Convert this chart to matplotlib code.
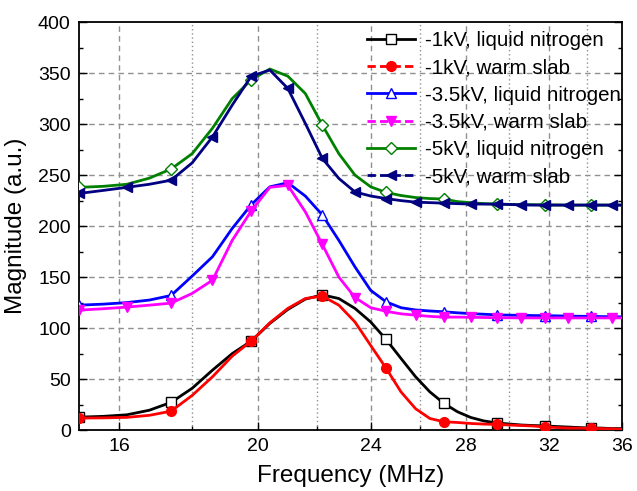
import matplotlib
matplotlib.use("Agg")
import matplotlib.pyplot as plt
from matplotlib.lines import Line2D
from matplotlib.ticker import FixedLocator, NullFormatter, FixedFormatter

plt.rcParams['font.family'] = ['Liberation Sans', 'DejaVu Sans']

# Frequency grid (MHz)
freq = [15.0, 15.6, 16.2, 16.8, 17.4, 18.0, 18.6, 19.2, 19.8, 20.4, 21.0, 21.6,
        22.2, 22.8, 23.4, 24.0, 24.6, 25.2, 25.8, 26.4, 27.0, 27.6, 28.2, 28.8,
        29.4, 30.0, 30.6, 31.2, 31.8, 32.4, 33.0, 33.6, 34.2, 34.8, 35.4, 36.0]

ln_1kv = [12.7, 13.5, 15.0, 19.5, 27.2, 41.0, 58.8, 75.0, 87.3, 104.6, 118.3, 128.4,
          132.6, 129.0, 119.3, 106.0, 89.0, 70.3, 52.3, 37.5, 26.3, 18.0, 12.4, 9.0,
          7.0, 6.0, 5.0, 4.5, 4.1, 3.5, 3.0, 2.5, 2.0, 2.0, 1.5, 1.5]
ws_1kv = [11.8, 12.0, 12.5, 14.5, 18.6, 34.0, 52.3, 72.5, 87.3, 105.2, 119.3, 129.0,
          131.4, 122.5, 106.0, 83.0, 60.8, 37.5, 21.0, 11.4, 8.2, 7.5, 6.5, 5.9,
          5.6, 5.0, 4.5, 4.0, 3.0, 2.5, 2.0, 2.0, 1.6, 1.5, 1.2, 1.0]
ln_35kv = [122.5, 123.5, 125.0, 127.5, 132.0, 151.0, 170.0, 197.7, 221.0, 238.5, 242.5, 229.5,
           211.0, 186.0, 160.0, 137.0, 125.8, 120.0, 117.8, 116.8, 116.0, 115.0, 114.2, 113.6,
           113.0, 112.7, 112.5, 112.3, 112.2, 112.0, 111.8, 111.6, 111.5, 111.3, 111.2, 111.0]
ws_35kv = [117.6, 119.0, 120.6, 122.5, 124.5, 134.0, 147.0, 186.0, 215.0, 238.0, 240.0, 214.0,
           182.0, 150.0, 130.0, 120.0, 116.5, 114.0, 112.7, 111.5, 110.8, 110.8, 110.6, 110.4,
           110.2, 110.1, 110.0, 110.0, 110.0, 110.0, 110.0, 110.0, 110.0, 110.0, 110.0, 110.0]
ln_5kv = [238.0, 239.0, 241.0, 247.0, 256.0, 271.0, 296.0, 325.0, 343.5, 354.0, 347.0, 330.0,
          299.0, 271.0, 250.0, 238.5, 233.0, 230.0, 228.0, 227.0, 226.5, 224.0, 223.0, 222.0,
          221.6, 221.3, 221.0, 221.0, 220.8, 220.7, 220.6, 220.6, 220.6, 220.6, 220.6, 220.6]
ws_5kv = [232.0, 235.0, 238.0, 241.0, 245.0, 262.0, 287.5, 318.6, 347.0, 353.0, 335.0, 300.7,
          266.4, 246.7, 233.5, 229.5, 227.0, 225.0, 223.5, 223.0, 222.5, 222.0, 221.6, 221.6,
          221.6, 221.2, 220.8, 220.6, 220.6, 220.6, 220.6, 220.6, 220.6, 220.6, 220.6, 220.6]

labels = ["-1kV, liquid nitrogen", "-1kV, warm slab", "-3.5kV, liquid nitrogen",
          "-3.5kV, warm slab", "-5kV, liquid nitrogen", "-5kV, warm slab"]

x_major = [16, 20, 24, 28, 32, 36]
x_minor = [18, 22, 26, 30, 34]
y_major = [0, 50, 100, 150, 200, 250, 300, 350, 400]

series = [
    (ln_1kv, dict(color='black', marker='s', mfc='white', mec='black', markevery=4)),
    (ws_1kv, dict(color='#ff0000', marker='o', mfc='#ff0000', mec='#ff0000', markevery=4)),
    (ln_35kv, dict(color='#0000ff', marker='^', mfc='white', mec='#0000ff', markevery=4)),
    (ws_35kv, dict(color='#ff00ff', marker='v', mfc='#ff00ff', mec='#ff00ff', markevery=2)),
    (ln_5kv, dict(color='#008000', marker='D', mfc='white', mec='#008000', markevery=4, ms=6.2)),
    (ws_5kv, dict(color='#000080', marker='<', mfc='#000080', mec='#000080', markevery=2)),
]

fig = plt.figure(figsize=(6.37, 4.91), dpi=100)
ax = fig.add_axes([0.124, 0.124, 0.853, 0.831])

ax.set_xscale('log')
ax.set_xlim(15, 36)
ax.set_ylim(0, 400)

# grid
for xv in x_major:
    ax.axvline(xv, color='#909090', lw=1.0, ls=(0, (4, 3)), zorder=0)
for xv in x_minor:
    ax.axvline(xv, color='#909090', lw=1.0, ls=(0, (1, 2)), zorder=0)
for yv in y_major[1:-1]:
    ax.axhline(yv, color='#909090', lw=1.0, ls=(0, (4, 3)), zorder=0)

handles = []
for (vals, st), lab in zip(series, labels):
    ms = st.pop('ms', 7)
    ax.plot(freq, vals, lw=2.0, ms=ms, mew=1.0, zorder=3, **st)
    dashed = 'warm' in lab
    handles.append(Line2D([], [], color=st['color'], lw=2.0, marker=st['marker'],
                          mfc=st['mfc'], mec=st['mec'], ms=ms, mew=1.0,
                          ls=(0, (3, 1.5)) if dashed else '-'))

ax.xaxis.set_major_locator(FixedLocator(x_major))
ax.xaxis.set_major_formatter(FixedFormatter([str(v) for v in x_major]))
ax.xaxis.set_minor_locator(FixedLocator(x_minor))
ax.xaxis.set_minor_formatter(NullFormatter())
ax.yaxis.set_major_locator(FixedLocator(y_major))
ax.yaxis.set_minor_locator(FixedLocator([25, 75, 125, 175, 225, 275, 325, 375]))

ax.tick_params(axis='both', which='major', direction='in', length=6, width=1.0,
               labelsize=14, right=True, top=False, pad=6)
ax.tick_params(axis='both', which='minor', direction='in', length=3, width=1.0,
               right=True, top=False)
for sp in ax.spines.values():
    sp.set_linewidth(1.3)

ax.set_xlabel('Frequency (MHz)', fontsize=17.5, labelpad=7)
ax.set_ylabel('Magnitude (a.u.)', fontsize=17.5, labelpad=8)

leg = ax.legend(handles, labels, loc='upper left', frameon=False, fontsize=14.8,
                handlelength=2.35, handletextpad=0.45, labelspacing=0.4,
                borderaxespad=0.0, borderpad=0.0, bbox_to_anchor=(0.53, 0.978))

fig.savefig('out.png', dpi=100)
